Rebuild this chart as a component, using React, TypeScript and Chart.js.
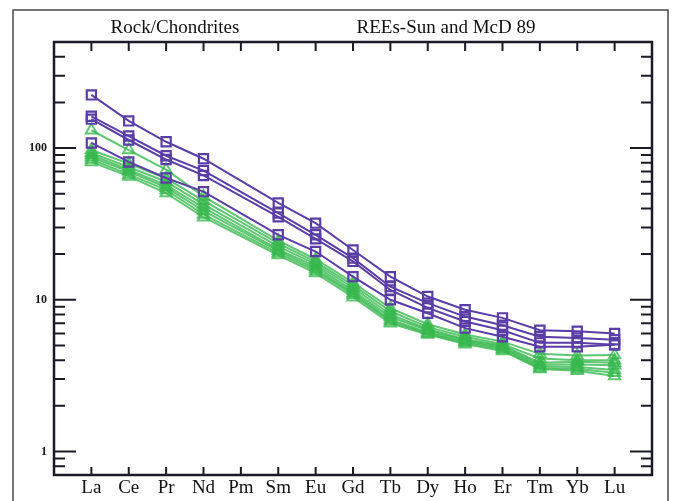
import React, { useEffect, useRef } from 'react';
import { Chart, registerables } from 'chart.js';
Chart.register(...registerables);

const categories = ['La', 'Ce', 'Pr', 'Nd', 'Pm', 'Sm', 'Eu', 'Gd', 'Tb', 'Dy', 'Ho', 'Er', 'Tm', 'Yb', 'Lu'];
const yTickLabels = [1, 10, 100];
const yMinorTicks = [0.7, 0.8, 0.9, 2, 3, 4, 5, 6, 7, 8, 9, 20, 30, 40, 50, 60, 70, 80, 90, 200, 300, 400];
const titleLeft = 'Rock/Chondrites';
const titleRight = 'REEs-Sun and McD 89';

// purple samples (open squares); Pm not analysed
const purple1 = [224, 151, 110, 85, null, 43.5, 32, 21.3, 14.2, 10.5, 8.6, 7.6, 6.3, 6.2, 6.0];
const purple2 = [162, 120, 89, 71, null, 37.3, 26.8, 18.8, 12.2, 9.5, 7.75, 6.8, 5.7, 5.6, 5.45];
const purple3 = [155, 113, 84, 66, null, 35.2, 25.2, 17.9, 11.6, 8.85, 7.2, 6.3, 5.2, 5.2, 5.05];
const purple4 = [108, 81, 63.5, 51.6, null, 26.8, 20.8, 14.2, 10.0, 8.15, 6.5, 5.7, 4.9, 4.9, 5.05];

// green samples (open triangles)
const green1 = [131, 97, 72, 48, null, 24.5, 18.5, 13, 8.8, 6.9, 5.9, 5.3, 4.4, 4.3, 4.33];
const green2 = [97, 79, 63, 45, null, 23.5, 17.8, 12.5, 8.4, 6.6, 5.7, 5.1, 4.1, 4.0, 4.0];
const green3 = [93, 75, 60, 42.5, null, 22.5, 17.2, 12, 8.0, 6.4, 5.5, 5.0, 3.85, 3.9, 3.85];
const green4 = [90, 72, 57, 40.5, null, 21.5, 16.6, 11.5, 7.7, 6.3, 5.4, 4.9, 3.75, 3.75, 3.7];
const green5 = [87, 70, 55, 38.5, null, 21, 16, 11.1, 7.4, 6.1, 5.3, 4.8, 3.65, 3.6, 3.45];
const green6 = [84, 67, 53, 36.5, null, 20.3, 15.5, 10.8, 7.2, 6.0, 5.2, 4.7, 3.55, 3.5, 3.3];
const green7 = [81, 65, 50.5, 35, null, 19.7, 15, 10.4, 7.0, 5.9, 5.1, 4.6, 3.5, 3.4, 3.15];

const purpleSeries = [purple1, purple2, purple3, purple4];
const greenSeries = [green1, green2, green3, green4, green5, green6, green7];

const PURPLE = '#5a3ea6';
const GREEN = 'rgba(55,184,78,0.8)';
const AXIS = '#1b1b28';
const SERIF = "'Liberation Serif', 'Times New Roman', serif";

const toPoints = (arr: (number | null)[]) => arr.map((v, i) => ({ x: i + 1, y: v }));

const decorPlugin = {
  id: 'decor',
  beforeDraw(chart: any) {
    const ctx = chart.ctx;
    ctx.save();
    ctx.fillStyle = '#ffffff';
    ctx.fillRect(0, 0, chart.width, chart.height);
    ctx.restore();
  },
  afterDraw(chart: any) {
    const ctx = chart.ctx;
    const { left, right, top, bottom } = chart.chartArea;
    const ys = chart.scales.y;
    const xs = chart.scales.x;
    ctx.save();
    // outer frame
    ctx.strokeStyle = '#4a4a4a';
    ctx.lineWidth = 1.5;
    ctx.strokeRect(13, 10, 655, 520);
    // titles
    ctx.fillStyle = '#111111';
    ctx.font = `19px ${SERIF}`;
    ctx.textBaseline = 'alphabetic';
    ctx.textAlign = 'center';
    ctx.fillText(titleLeft, 175, 33);
    ctx.fillText(titleRight, 446, 33);
    // axis box
    ctx.strokeStyle = AXIS;
    ctx.lineWidth = 2.5;
    ctx.strokeRect(left, top, right - left, bottom - top);
    // y ticks (inward, both sides)
    ctx.lineWidth = 2;
    ctx.beginPath();
    yMinorTicks.forEach((v) => {
      const y = ys.getPixelForValue(v);
      ctx.moveTo(left, y); ctx.lineTo(left + 11, y);
      ctx.moveTo(right, y); ctx.lineTo(right - 11, y);
    });
    yTickLabels.forEach((v) => {
      const y = ys.getPixelForValue(v);
      ctx.moveTo(left, y); ctx.lineTo(left + 22, y);
      ctx.moveTo(right, y); ctx.lineTo(right - 22, y);
    });
    // x ticks (inward, top and bottom)
    categories.forEach((_, i) => {
      const x = xs.getPixelForValue(i + 1);
      ctx.moveTo(x, bottom); ctx.lineTo(x, bottom - 8);
      ctx.moveTo(x, top); ctx.lineTo(x, top + 9);
    });
    ctx.stroke();
    ctx.restore();
  },
};

export default function App() {
  const ref = useRef<HTMLCanvasElement>(null);
  useEffect(() => {
    if (!ref.current) return;
    const datasets: any[] = [];
    purpleSeries.forEach((s, i) => {
      datasets.push({
        label: `P${i + 1}`,
        data: toPoints(s),
        borderColor: PURPLE,
        backgroundColor: 'rgba(0,0,0,0)',
        borderWidth: 2,
        pointStyle: 'rect',
        pointRadius: 6.5,
        pointBorderWidth: 2.2,
        pointBorderColor: PURPLE,
        pointBackgroundColor: 'rgba(0,0,0,0)',
        spanGaps: true,
      });
    });
    greenSeries.forEach((s, i) => {
      datasets.push({
        label: `G${i + 1}`,
        data: toPoints(s),
        borderColor: GREEN,
        backgroundColor: 'rgba(0,0,0,0)',
        borderWidth: 2,
        pointStyle: 'triangle',
        pointRadius: 6.5,
        pointBorderWidth: 2,
        pointBorderColor: GREEN,
        pointBackgroundColor: 'rgba(0,0,0,0)',
        spanGaps: true,
      });
    });
    const chart = new Chart(ref.current, {
      type: 'line',
      data: { datasets },
      plugins: [decorPlugin],
      options: {
        animation: false,
        responsive: false,
        layout: { padding: { left: 0, top: 42, right: 22, bottom: 0 } },
        plugins: { legend: { display: false }, tooltip: { enabled: false } },
        scales: {
          x: {
            type: 'linear',
            min: 0,
            max: 16,
            afterFit: (s: any) => { s.height = 26; },
            grid: { display: false, drawTicks: false },
            border: { display: false },
            ticks: {
              stepSize: 1,
              autoSkip: false,
              maxRotation: 0,
              padding: 2,
              color: '#111',
              font: { family: SERIF, size: 19 },
              callback: (v: any) => categories[Number(v) - 1] ?? '',
            },
          },
          y: {
            type: 'logarithmic',
            min: 0.7,
            max: 500,
            afterFit: (s: any) => { s.width = 54; },
            grid: { display: false, drawTicks: false },
            border: { display: false },
            ticks: {
              autoSkip: false,
              padding: 7,
              color: '#1a1a1a',
              font: { family: SERIF, size: 12, weight: 'bold' },
              callback: (v: any) => {
                const n = Number(v);
                return yTickLabels.some((t) => Math.abs(t - n) < 1e-9 * t) ? String(n) : '';
              },
            },
          },
        },
      },
    });
    return () => chart.destroy();
  }, []);
  return (
    <div style={{ position: 'absolute', left: 0, top: 0, width: 674, height: 501 }}>
      <canvas ref={ref} width={674} height={501} style={{ width: 674, height: 501, display: 'block' }} />
    </div>
  );
}
